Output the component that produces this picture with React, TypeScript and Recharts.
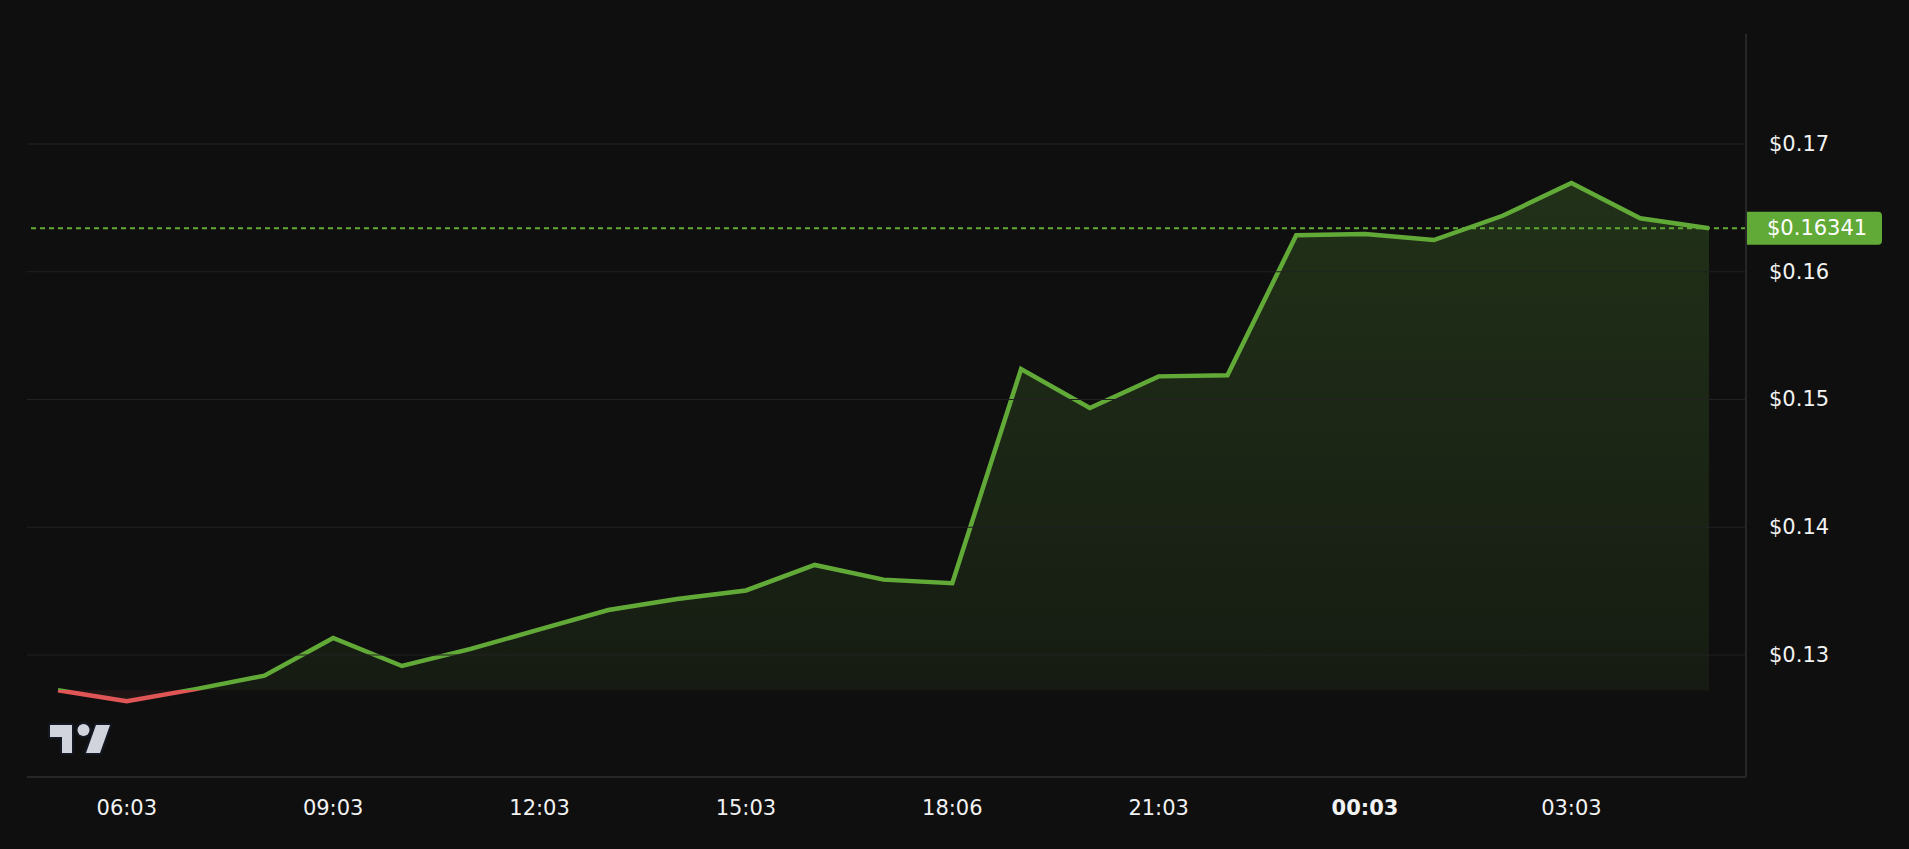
import React from 'react';
import { AreaChart, Area, XAxis, YAxis, ReferenceLine } from 'recharts';

const times = [
  '05:03', '06:03', '07:03', '08:03', '09:03', '10:03', '11:03', '12:03', '13:03', '14:03',
  '15:03', '16:03', '17:03', '18:06', '19:03', '20:03', '21:03', '22:03', '23:03', '00:03',
  '01:03', '02:03', '03:03', '04:03', '05:03',
];
const prices = [
  0.12724, 0.12638, 0.12733, 0.12838, 0.13133, 0.12914, 0.13048, 0.132, 0.13352, 0.13438,
  0.13505, 0.13705, 0.1359, 0.13562, 0.15238, 0.14933, 0.15181, 0.1519, 0.16286, 0.16295,
  0.16248, 0.16438, 0.16695, 0.16419, 0.16341,
];
const xTicks = ['06:03', '09:03', '12:03', '15:03', '18:06', '21:03', '00:03', '03:03'];
const boldTicks = ['00:03'];
const yTicks = [0.13, 0.14, 0.15, 0.16, 0.17];
const yDomain = [0.12045, 0.17861];
const lastPrice = prices[prices.length - 1];
const baseline = prices[0];

const data = times.map((t, i) => ({ t, price: prices[i] }));

const GREEN = '#62aa38';
const RED = '#e05555';
const BG = '#0f0f0f';
const GRID = '#222222';
const FONT = '"DejaVu Sans", "Noto Sans", sans-serif';
const FS = 21;

const maxP = Math.max(...prices);
const minP = Math.min(...prices);
const splitOff = (maxP - baseline) / (maxP - minP);

const XTick = (props: any) => {
  const { x, y, payload } = props;
  const bold = boldTicks.includes(payload.value);
  return (
    <text
      x={x}
      y={y + 29}
      textAnchor="middle"
      dominantBaseline="central"
      fill="#f2f2f2"
      fontSize={FS}
      fontWeight={bold ? 700 : 400}
      fontFamily={FONT}
    >
      {payload.value}
    </text>
  );
};

const YTick = (props: any) => {
  const { x, y, payload } = props;
  return (
    <text
      x={x + 21}
      y={y}
      textAnchor="start"
      dominantBaseline="central"
      fill="#f2f2f2"
      fontSize={FS}
      fontFamily={FONT}
    >
      {'$' + payload.value.toFixed(2)}
    </text>
  );
};

const PriceLabel = (props: any) => {
  const vb = props.viewBox || {};
  const x0 = vb.x + vb.width;
  const yc = vb.y;
  const w = 136;
  const h = 33;
  const r = 4;
  const top = yc - h / 2;
  const d = `M${x0},${top} H${x0 + w - r} Q${x0 + w},${top} ${x0 + w},${top + r} V${top + h - r} Q${x0 + w},${top + h} ${x0 + w - r},${top + h} H${x0} Z`;
  return (
    <g>
      <path d={d} fill={GREEN} />
      <text
        x={x0 + 21}
        y={yc}
        dominantBaseline="central"
        fill="#ffffff"
        fontSize={FS}
        fontFamily={FONT}
      >
        {'$' + lastPrice.toFixed(5)}
      </text>
    </g>
  );
};

const Logo = () => (
  <svg
    width={72}
    height={40}
    viewBox="0 0 72 40"
    style={{ position: 'absolute', left: 44, top: 718 }}
  >
    <g fill="#d1d4dc" stroke="#141823" strokeWidth={4} strokeLinejoin="round" paintOrder="stroke">
      <path d="M6 7 H28 V35 H18 V19 H6 Z" />
      <circle cx={39.5} cy={12} r={6} />
      <path d="M52 7 H66 L56 35 H42 Z" />
    </g>
  </svg>
);

export default function App() {
  return (
    <div
      style={{
        position: 'absolute',
        left: 0,
        top: 0,
        width: 1909,
        height: 849,
        background: BG,
        overflow: 'hidden',
      }}
    >
      <AreaChart
        width={1909}
        height={849}
        data={data}
        margin={{ top: 34, right: 0, bottom: 0, left: 27 }}
      >
        <defs>
          <linearGradient id="strokeGrad" x1="0" y1="0" x2="0" y2="1">
            <stop offset={0} stopColor={GREEN} />
            <stop offset={splitOff} stopColor={GREEN} />
            <stop offset={splitOff} stopColor={RED} />
            <stop offset={1} stopColor={RED} />
          </linearGradient>
          <linearGradient id="fillGrad" x1="0" y1="0" x2="0" y2="1">
            <stop offset={0} stopColor={GREEN} stopOpacity={0.22} />
            <stop offset={splitOff} stopColor={GREEN} stopOpacity={0.08} />
            <stop offset={splitOff} stopColor={RED} stopOpacity={0.08} />
            <stop offset={1} stopColor={RED} stopOpacity={0.08} />
          </linearGradient>
        </defs>
        {yTicks.map((v) => (
          <ReferenceLine key={v} y={v} stroke={GRID} strokeWidth={1.2} />
        ))}
        <XAxis
          dataKey="t"
          ticks={xTicks}
          tick={<XTick />}
          tickLine={false}
          tickSize={0}
          axisLine={{ stroke: '#262626', strokeWidth: 2 }}
          padding={{ left: 31, right: 37 }}
          height={72}
          interval={0}
        />
        <YAxis
          orientation="right"
          domain={yDomain}
          ticks={yTicks}
          tick={<YTick />}
          tickLine={false}
          tickSize={0}
          axisLine={{ stroke: '#262626', strokeWidth: 2 }}
          width={163}
          allowDataOverflow
        />
        <Area
          type="linear"
          dataKey="price"
          baseValue={baseline}
          stroke="url(#strokeGrad)"
          strokeWidth={4.5}
          fill="url(#fillGrad)"
          fillOpacity={1}
          dot={false}
          activeDot={false}
          isAnimationActive={false}
        />
        <ReferenceLine
          y={lastPrice}
          stroke={GREEN}
          strokeWidth={2}
          strokeDasharray="5 4"
          label={<PriceLabel />}
        />
      </AreaChart>
      <Logo />
    </div>
  );
}
